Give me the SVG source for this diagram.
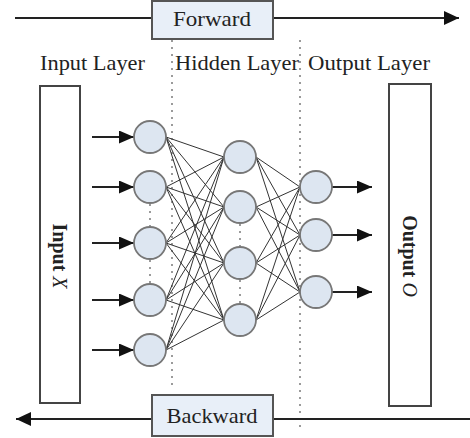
<svg xmlns="http://www.w3.org/2000/svg" width="470" height="438" viewBox="0 0 470 438">
<defs>
<marker id="ah" viewBox="0 0 10 10" refX="10" refY="5" markerWidth="15" markerHeight="13" markerUnits="userSpaceOnUse" orient="auto" preserveAspectRatio="none"><path d="M0,0 L10,5 L0,10 z" fill="#111"/></marker>
<marker id="ah2" viewBox="0 0 12 12" refX="12" refY="6" markerWidth="15" markerHeight="14" markerUnits="userSpaceOnUse" orient="auto" preserveAspectRatio="none"><path d="M0,0 L12,6 L0,12 z" fill="#111"/></marker>
</defs>
<style>
text{font-family:"Liberation Serif","Times New Roman",serif;fill:#222}
.lbl{font-size:21px}
.node{fill:#dde6f1;stroke:#777;stroke-width:1.8}
.conn{stroke:#333;stroke-width:1;fill:none}
.arr{stroke:#222;stroke-width:2;fill:none}
.dot{stroke:#666;stroke-width:1.3;stroke-dasharray:2,5;fill:none}
.box{fill:#fff;stroke:#444;stroke-width:2}
.tag{fill:#e8eff8;stroke:#555;stroke-width:2}
</style>
<rect width="470" height="438" fill="#fff"/>
<g id="guides">
<line class="dot" x1="172" y1="40" x2="172" y2="390"/>
<line class="dot" x1="300" y1="40" x2="300" y2="432"/>
</g>
<g id="forward">
<line class="arr" x1="15" y1="18" x2="152" y2="18"/>
<line class="arr" x1="273" y1="18" x2="459" y2="18" marker-end="url(#ah2)"/>
<rect class="tag" x="152" y="1" width="121" height="38"/>
<text x="212" y="26" text-anchor="middle" font-size="21" textLength="78" lengthAdjust="spacingAndGlyphs">Forward</text>
</g>
<g id="backward">
<line class="arr" x1="470" y1="419" x2="273" y2="419"/>
<line class="arr" x1="152" y1="419" x2="16" y2="419" marker-end="url(#ah2)"/>
<rect class="tag" x="152" y="395" width="121" height="41"/>
<text x="212" y="423" text-anchor="middle" font-size="21" textLength="91" lengthAdjust="spacingAndGlyphs">Backward</text>
</g>
<g id="labels">
<text class="lbl" x="40" y="70" textLength="105" lengthAdjust="spacingAndGlyphs">Input Layer</text>
<text class="lbl" x="175" y="70" textLength="124" lengthAdjust="spacingAndGlyphs">Hidden Layer</text>
<text class="lbl" x="308" y="70" textLength="122" lengthAdjust="spacingAndGlyphs">Output Layer</text>
</g>
<g id="input-box">
<rect class="box" x="40" y="86" width="40" height="317"/>
<text transform="translate(53,256) rotate(90)" text-anchor="middle" font-size="20" font-weight="bold">Input <tspan font-style="italic" font-weight="normal">X</tspan></text>
</g>
<g id="output-box">
<rect class="box" x="389" y="84" width="42" height="322"/>
<text transform="translate(403,256) rotate(90)" text-anchor="middle" font-size="20" font-weight="bold">Output <tspan font-style="italic" font-weight="normal">O</tspan></text>
</g>
<g id="connectors">
<g class="conn">
<path d="M166,137 L224,157 M166,137 L224,207 M166,137 L224,263 M166,137 L224,320
M166,187 L224,157 M166,187 L224,207 M166,187 L224,263 M166,187 L224,320
M166,243 L224,157 M166,243 L224,207 M166,243 L224,263 M166,243 L224,320
M166,300 L224,157 M166,300 L224,207 M166,300 L224,263 M166,300 L224,320
M166,350 L224,157 M166,350 L224,207 M166,350 L224,263 M166,350 L224,320
M256,157 L300,187 M256,157 L300,235 M256,157 L300,292
M256,207 L300,187 M256,207 L300,235 M256,207 L300,292
M256,263 L300,187 M256,263 L300,235 M256,263 L300,292
M256,320 L300,187 M256,320 L300,235 M256,320 L300,292"/>
</g>
<g class="arr">
<line x1="92" y1="137" x2="134" y2="137" marker-end="url(#ah)"/>
<line x1="92" y1="187" x2="134" y2="187" marker-end="url(#ah)"/>
<line x1="92" y1="243" x2="134" y2="243" marker-end="url(#ah)"/>
<line x1="92" y1="300" x2="134" y2="300" marker-end="url(#ah)"/>
<line x1="92" y1="350" x2="134" y2="350" marker-end="url(#ah)"/>
<line x1="332" y1="187" x2="372" y2="187" marker-end="url(#ah)"/>
<line x1="332" y1="235" x2="372" y2="235" marker-end="url(#ah)"/>
<line x1="332" y1="292" x2="372" y2="292" marker-end="url(#ah)"/>
</g>
<g class="dot">
<line x1="150" y1="204" x2="150" y2="226"/>
<line x1="150" y1="260" x2="150" y2="283"/>
<line x1="240" y1="224" x2="240" y2="246"/>
<line x1="240" y1="280" x2="240" y2="303"/>
</g>
</g>
<g id="input-nodes">
<circle id="i1" class="node" cx="150" cy="137" r="16"/>
<circle id="i2" class="node" cx="150" cy="187" r="16"/>
<circle id="i3" class="node" cx="150" cy="243" r="16"/>
<circle id="i4" class="node" cx="150" cy="300" r="16"/>
<circle id="i5" class="node" cx="150" cy="350" r="16"/>
</g>
<g id="hidden-nodes">
<circle id="h1" class="node" cx="240" cy="157" r="16"/>
<circle id="h2" class="node" cx="240" cy="207" r="16"/>
<circle id="h3" class="node" cx="240" cy="263" r="16"/>
<circle id="h4" class="node" cx="240" cy="320" r="16"/>
</g>
<g id="output-nodes">
<circle id="o1" class="node" cx="316" cy="187" r="16"/>
<circle id="o2" class="node" cx="316" cy="235" r="16"/>
<circle id="o3" class="node" cx="316" cy="292" r="16"/>
</g>
</svg>
